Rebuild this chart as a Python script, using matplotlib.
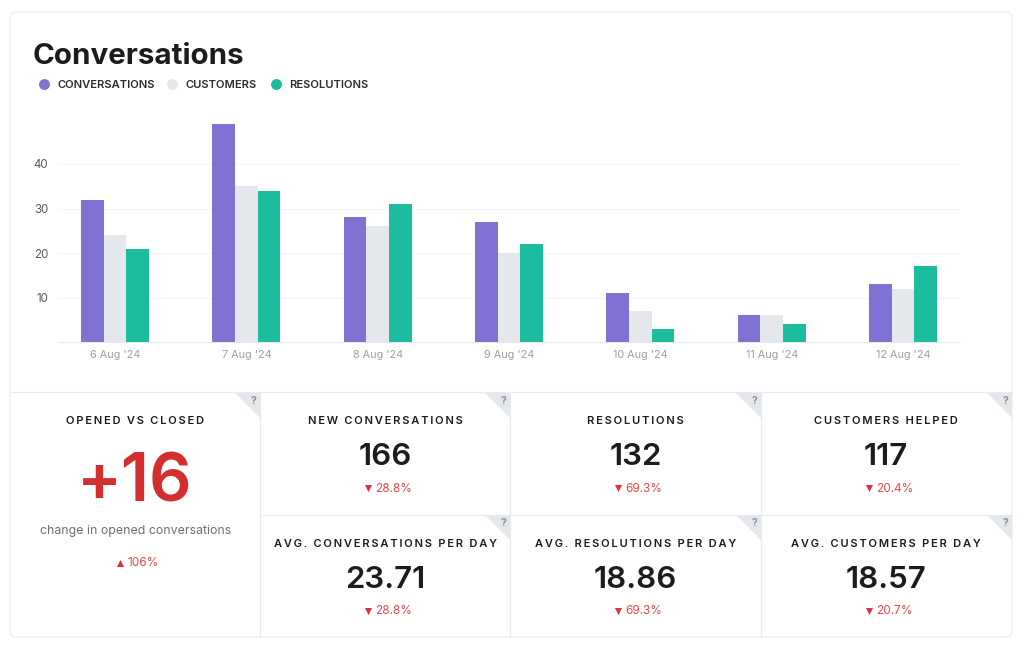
import matplotlib
matplotlib.use('Agg')
import matplotlib.pyplot as plt
from matplotlib.patches import FancyBboxPatch, Polygon
import numpy as np

plt.rcParams['font.family'] = ['Inter', 'DejaVu Sans']

days = ["6 Aug '24", "7 Aug '24", "8 Aug '24", "9 Aug '24", "10 Aug '24", "11 Aug '24", "12 Aug '24"]
conversations = [32, 49, 28, 27, 11, 6, 13]
customers = [24, 35, 26, 20, 7, 6, 12]
resolutions = [21, 34, 31, 22, 3, 4, 17]
y_ticks = [10, 20, 30, 40]

series_names = ['CONVERSATIONS', 'CUSTOMERS', 'RESOLUTIONS']
series_colors = ['#7f72d3', '#e4e7ec', '#1cbc9f']

card_titles = ['NEW CONVERSATIONS', 'RESOLUTIONS', 'CUSTOMERS HELPED',
               'AVG. CONVERSATIONS PER DAY', 'AVG. RESOLUTIONS PER DAY', 'AVG. CUSTOMERS PER DAY']
card_values = ['166', '132', '117', '23.71', '18.86', '18.57']
card_changes = ['28.8%', '69.3%', '20.4%', '28.8%', '69.3%', '20.7%']

W, H = 1024, 649
BORDER = '#e8eaee'
RED = '#e5484d'
DARK = '#1c1c1e'


def spaced(s):
    # no letter-spacing in matplotlib, hair spaces get close enough
    return '\u200a\u200a'.join(s)


fig = plt.figure(figsize=(W / 100, H / 100), dpi=100, facecolor='white')

# whole figure in pixel coordinates for the card furniture
bg = fig.add_axes([0, 0, 1, 1])
bg.set_xlim(0, W)
bg.set_ylim(H, 0)
bg.axis('off')

bg.add_patch(FancyBboxPatch((10, 12), 1002, 625, boxstyle='round,pad=0,rounding_size=6',
                            facecolor='white', edgecolor=BORDER, linewidth=0.8))
bg.plot([10, 1012], [392, 392], color=BORDER, lw=0.8)
bg.plot([260, 1012], [514.5, 514.5], color=BORDER, lw=0.8)
for vx in [260, 510, 761]:
    bg.plot([vx, vx], [392, 637], color=BORDER, lw=0.8)

bg.text(33, 56, 'Conversations', fontsize=21.3, fontweight='bold', color=DARK, va='center', ha='left')

# legend
for lx, tx, name, c in zip([44, 172, 276], [57.5, 186, 289], series_names, series_colors):
    bg.scatter([lx], [84], s=62, color=c, linewidths=0)
    bg.text(tx, 84.5, name, fontsize=8, fontweight='semibold', color='#2b2b30', va='center', ha='left')

# bar chart, lined up with the pixels of the reference
ax = fig.add_axes([58 / W, 1 - 342 / H, (960 - 58) / W, (342 - 100) / H])
ax.patch.set_alpha(0)
x = np.arange(len(days))
width = 0.172
for off, vals, c in zip([-1, 0, 1], [conversations, customers, resolutions], series_colors):
    ax.bar(x + off * width, vals, width, color=c, linewidth=0, zorder=3)
ax.set_xlim(-0.434, 6.434)
ax.set_ylim(0, 242 / 4.45)
ax.set_yticks(y_ticks)
ax.set_xticks(x)
ax.set_xticklabels(days, fontsize=7.8, color='#9aa1aa')
ax.tick_params(axis='both', length=0)
ax.tick_params(axis='x', pad=6)
ax.tick_params(axis='y', pad=7, labelsize=8.3, labelcolor='#555a60')
ax.grid(axis='y', color='#f3f4f6', lw=0.8, zorder=0)
for side in ['top', 'right', 'left']:
    ax.spines[side].set_visible(False)
ax.spines['bottom'].set_color(BORDER)

# corner flags with the question marks
right_edges = [260, 510, 761, 1012]
for i, rx in enumerate(right_edges):
    tops = [392.5] if i == 0 else [392.5, 515]
    for ty in tops:
        bg.add_patch(Polygon([(rx - 25, ty), (rx, ty), (rx, ty + 25)], closed=True,
                             facecolor='#e4e7ec', edgecolor='none'))
        bg.text(rx - 6.5, ty + 8, '?', fontsize=7.5, fontweight='bold', color='#8b929c',
                ha='center', va='center')

# left summary card
bg.text(135, 421, spaced('OPENED VS CLOSED'), fontsize=8, fontweight='semibold', color=DARK,
        ha='center', va='center')
bg.text(135, 484, '+16', fontsize=48, fontweight='semibold', color='#d32f2f', ha='center', va='center')
bg.text(135.5, 531, 'change in opened conversations', fontsize=8.9, color='#6b7078', ha='center', va='center')
bg.scatter([120], [563], marker='^', s=26, color='#e0323a', linewidths=0)
bg.text(127, 563.5, '106%', fontsize=8.5, color=RED, ha='left', va='center')

# metric cards
centers = [385.5, 635.5, 886] * 2
rows = [0, 0, 0, 122.5, 122.5, 122.5]
for cx, dy, title, val, chg in zip(centers, rows, card_titles, card_values, card_changes):
    bg.text(cx, 421.5 + dy, spaced(title), fontsize=8, fontweight='semibold', color=DARK,
            ha='center', va='center')
    bg.text(cx, 457 + dy, val, fontsize=22.5, fontweight='semibold', color=DARK, ha='center', va='center')
    bg.scatter([cx - 17.5], [488 + dy], marker='v', s=26, color='#e0323a', linewidths=0)
    bg.text(cx - 10, 488.5 + dy, chg, fontsize=8.5, color=RED, ha='left', va='center')

fig.savefig('out.png', dpi=100, facecolor='white')
